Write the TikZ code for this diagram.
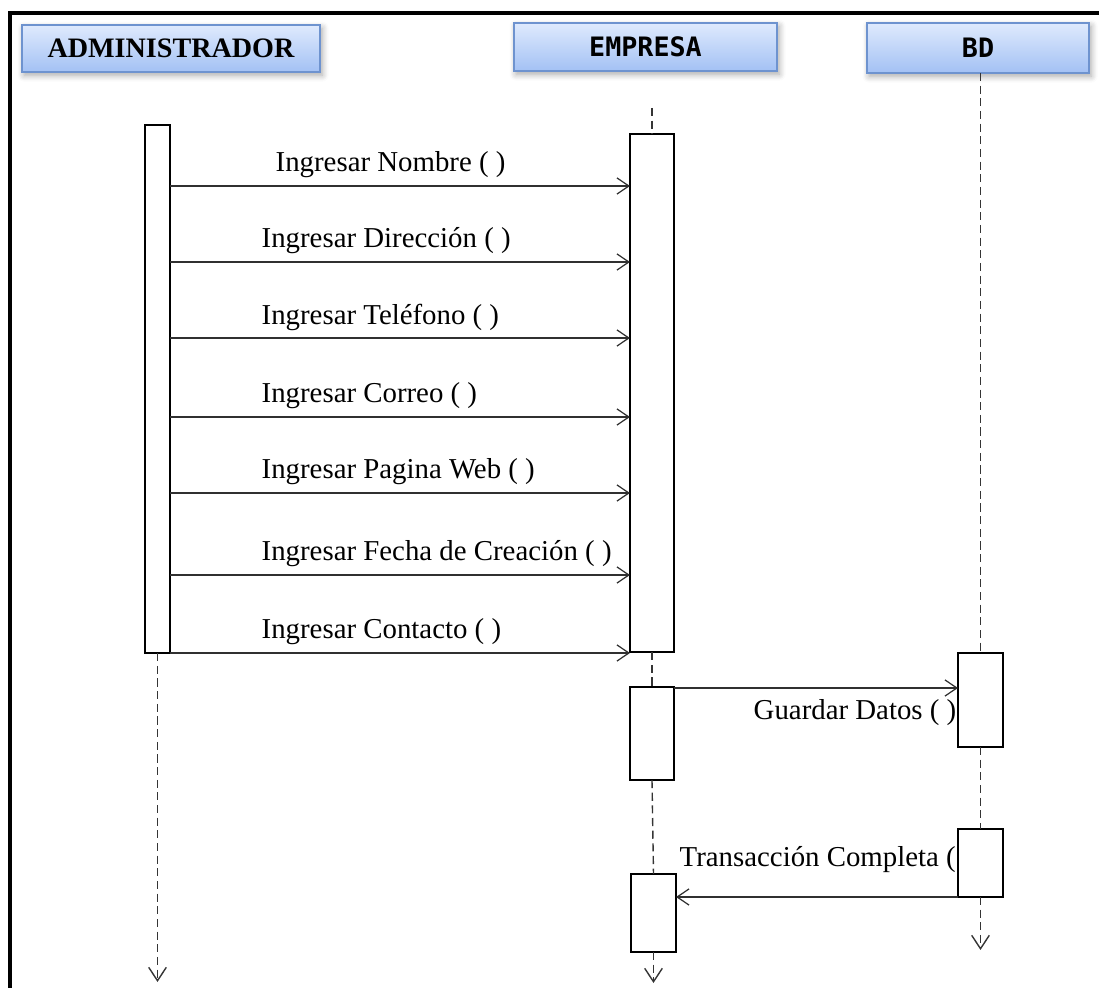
\documentclass[tikz,border=0pt]{standalone}
\usepackage{fontspec}
\setmainfont{Liberation Serif}
\newfontfamily\headmono{DejaVu Sans Mono}
\usetikzlibrary{arrows.meta,shadows.blur}

\definecolor{headtop}{HTML}{DFEAFD}
\definecolor{headbot}{HTML}{A3C1F4}
\definecolor{headline}{HTML}{6E93CF}
\definecolor{msgline}{HTML}{303030}
\definecolor{lifeline}{HTML}{353535}

\tikzset{
    head/.style={draw=headline, line width=0.5pt, top color=headtop, bottom color=headbot,
        inner sep=0pt, outer sep=0pt,
        blur shadow={shadow xshift=0.6pt, shadow yshift=-0.9pt, shadow blur steps=6, shadow opacity=35}},
    act/.style={draw, fill=white, line width=0.7pt, inner sep=0pt, outer sep=0pt},
    msg/.style={draw=msgline, line width=0.35pt, -{Straight Barb[length=3.4pt, width=4.6pt, line width=0.35pt]}},
    life/.style={draw=lifeline, line width=0.4pt, dash pattern=on 2.3pt off 1.3pt},
    lifeend/.style={life, -{Straight Barb[length=3.8pt, width=5pt, line width=0.4pt]}},
    lbl/.style={font=\fontsize{8.2}{10}\selectfont, inner sep=0pt},
}

\begin{document}
\begin{tikzpicture}[x=0.01cm, y=-0.01cm]

    \useasboundingbox (0,0) rectangle (1099,988);

    % frame (top and left edge only)
    \draw[line width=1.1pt] (10,988) -- (10,13) -- (1099,13);

    % actors
    \node[head, minimum width=2.98cm, minimum height=0.47cm, font=\fontsize{8}{10}\selectfont\bfseries]
        (adm) at (171,48.5) {ADMINISTRADOR};
    \node[head, minimum width=2.63cm, minimum height=0.48cm, font=\headmono\fontsize{7.6}{10}\selectfont\bfseries]
        (emp) at (645.5,47) {EMPRESA};
    \node[head, minimum width=2.22cm, minimum height=0.50cm, font=\headmono\fontsize{7.6}{10}\selectfont\bfseries]
        (bd) at (978,48) {BD};

    % activation boxes
    \node[act, minimum width=0.25cm, minimum height=5.28cm] (adm1) at (157.5,389) {};
    \node[act, minimum width=0.44cm, minimum height=5.18cm] (emp1) at (652,393) {};
    \node[act, minimum width=0.44cm, minimum height=0.93cm] (emp2) at (652,733.5) {};
    \node[act, minimum width=0.45cm, minimum height=0.78cm] (emp3) at (653.5,913) {};
    \node[act, minimum width=0.45cm, minimum height=0.94cm] (bd1) at (980.5,700) {};
    \node[act, minimum width=0.45cm, minimum height=0.68cm] (bd2) at (980.5,863) {};

    % lifelines
    \coordinate (admEnd) at (157.5,982);
    \coordinate (empTop) at (652,108);
    \coordinate (empEnd) at (653.5,983);
    \coordinate (bdEnd) at (980.5,950);

    \draw[lifeend] (adm1.south) -- (admEnd);
    \draw[life] (empTop) -- (emp1.north);
    \draw[life] (emp1.south) -- (emp2.north);
    \draw[life] (emp2.south) -- (emp3.north);
    \draw[lifeend] (emp3.south) -- (empEnd);
    \draw[life] (bd1.north |- bd.south) -- (bd1.north);
    \draw[life] (bd1.south) -- (bd2.north);
    \draw[lifeend] (bd2.south) -- (bdEnd);

    % administrador -> empresa
    \foreach \y/\lx/\txt [count=\i] in {
        186/275/Ingresar Nombre ( ),
        262/261/Ingresar Dirección ( ),
        338/261/Ingresar Teléfono ( ),
        417/261/Ingresar Correo ( ),
        493/261/Ingresar Pagina Web ( ),
        575/261/Ingresar Fecha de Creación ( ),
        653/261/Ingresar Contacto ( )}
    {
        \draw[msg] (adm1.east |- 0,\y) -- (emp1.west |- 0,\y);
        \node[lbl, anchor=west] (m\i) at (\lx,\y-21) {\txt};
    }

    % empresa <-> bd
    \draw[msg] (emp2.east |- 0,688) -- (bd1.west |- 0,688);
    \node[lbl, anchor=east] (guardar) at (957,713) {Guardar Datos ( )};

    \draw[msg] (bd2.west |- 0,897) -- (emp3.east |- 0,897);
    \node[lbl, anchor=west] (transac) at (679,860) {Transacción Completa (};

\end{tikzpicture}
\end{document}
